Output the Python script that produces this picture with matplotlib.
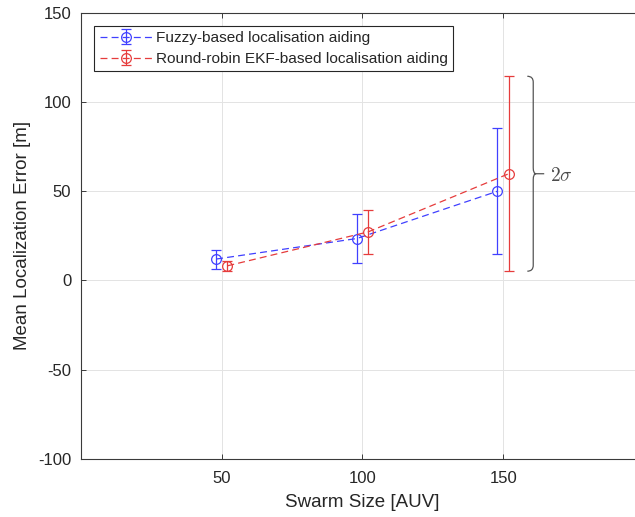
import matplotlib
matplotlib.use("Agg")
import matplotlib.pyplot as plt
from matplotlib.path import Path
from matplotlib.patches import PathPatch

# swarm sizes (the two methods are offset slightly so the bars do not overlap)
swarm_fuzzy = [48, 98, 148]
swarm_ekf = [52, 102, 152]

# mean localisation error [m] and 2-sigma half widths
err_fuzzy = [12.0, 23.5, 50.0]
sig_fuzzy = [5.3, 13.6, 35.4]
err_ekf = [8.2, 27.2, 59.8]
sig_ekf = [2.8, 12.2, 54.6]

labels = ["Fuzzy-based localisation aiding",
          "Round-robin EKF-based localisation aiding"]
xticks = [50, 100, 150]
yticks = [-100, -50, 0, 50, 100, 150]

plt.rcParams["font.family"] = ["Liberation Sans", "DejaVu Sans"]
plt.rcParams["mathtext.fontset"] = "cm"
plt.rcParams["lines.scale_dashes"] = False
plt.rcParams["axes.unicode_minus"] = False

dark = "#262626"
blue = "#4040ff"
red = "#e63c3c"

fig = plt.figure(figsize=(6.35, 5.17), dpi=100)
ax = fig.add_axes([0.1276, 0.1122, 0.8863, 0.8632])

common = dict(linestyle=(0, (5, 3)), marker="o", mfc="none", ms=7, mew=0.9,
              lw=0.9, capsize=3.7, elinewidth=0.9, capthick=0.9)
ax.errorbar(swarm_fuzzy, err_fuzzy, yerr=sig_fuzzy, color=blue,
            label=labels[0], **common)
ax.errorbar(swarm_ekf, err_ekf, yerr=sig_ekf, color=red,
            label=labels[1], **common)

ax.set_xlim(0, 200)
ax.set_ylim(-100, 150)
ax.set_xticks(xticks)
ax.set_yticks(yticks)
ax.grid(True, color="#e3e3e3", lw=0.7)
ax.set_axisbelow(True)

for s in ax.spines.values():
    s.set_color("#3a3a3a")
    s.set_linewidth(0.8)
ax.spines["right"].set_visible(False)
ax.tick_params(direction="in", length=3.5, width=0.7, color="#3a3a3a",
               top=True, right=False, labelsize=12, labelcolor=dark)
ax.tick_params(axis="x", pad=9)
ax.tick_params(axis="y", pad=7)

ax.set_xlabel("Swarm Size [AUV]", fontsize=13.5, color=dark)
ax.set_ylabel("Mean Localization Error [m]", fontsize=13.5, color=dark)
ax.xaxis.set_label_coords(0.5, -0.0775)
ax.yaxis.set_label_coords(-0.0885, 0.5)

leg = ax.legend(loc="upper left", bbox_to_anchor=(0.0236, 0.971),
                borderaxespad=0, fontsize=11.1, fancybox=False,
                edgecolor=dark, framealpha=1, handlelength=3.4,
                handletextpad=0.25, borderpad=0.35, labelspacing=0.45)
leg.get_frame().set_linewidth(0.8)
for t in leg.get_texts():
    t.set_color(dark)

# curly brace marking the 2-sigma span of the last EKF point
ytop = err_ekf[2] + sig_ekf[2]
ybot = err_ekf[2] - sig_ekf[2]
ymid = err_ekf[2]
x0, x1, xt, r = 158.6, 160.7, 164.6, 3.3
verts = [(x0, ytop), (x1, ytop), (x1, ytop - r),
         (x1, ymid + r),
         (x1, ymid), (x1 + 1.0, ymid),
         (xt, ymid),
         (x1 + 1.0, ymid),
         (x1, ymid), (x1, ymid - r),
         (x1, ybot + r),
         (x1, ybot), (x0, ybot)]
codes = [Path.MOVETO, Path.CURVE3, Path.CURVE3,
         Path.LINETO,
         Path.CURVE3, Path.CURVE3,
         Path.LINETO,
         Path.MOVETO,
         Path.CURVE3, Path.CURVE3,
         Path.LINETO,
         Path.CURVE3, Path.CURVE3]
ax.add_patch(PathPatch(Path(verts, codes), fill=False, edgecolor="#555555",
                       lw=0.9, clip_on=False))
ax.text(xt + 1.9, ymid - 1.5, r"$2\sigma$", fontsize=14, color="#4d4d4d",
        ha="left", va="center")

fig.savefig("out.png", dpi=100)
